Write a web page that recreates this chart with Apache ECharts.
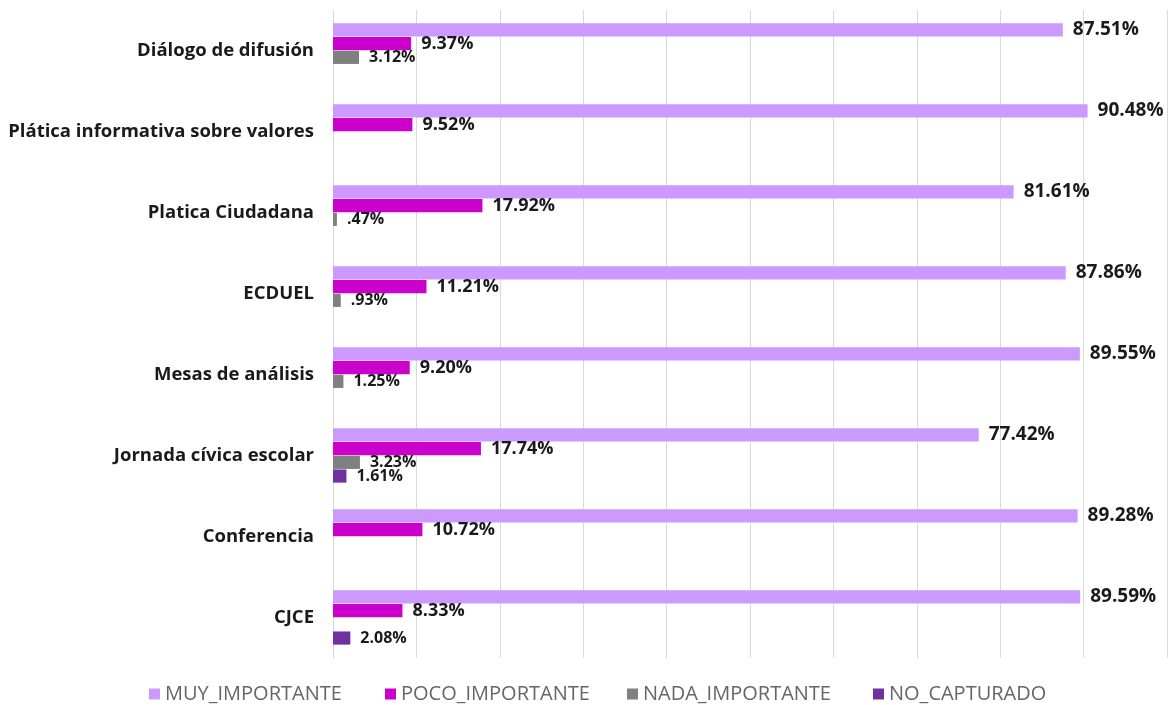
<!DOCTYPE html>
<html><head><meta charset="utf-8">
<script src="https://cdn.jsdelivr.net/npm/echarts@6/dist/echarts.min.js"></script>
<style>html,body{margin:0;padding:0;background:#fff}#c{width:1172px;height:705px}</style>
</head><body><div id="c"></div>
<script>
const categories = ["Diálogo de difusión","Plática informativa sobre valores","Platica Ciudadana","ECDUEL","Mesas de análisis","Jornada cívica escolar","Conferencia","CJCE"];
const seriesNames = ["MUY_IMPORTANTE","POCO_IMPORTANTE","NADA_IMPORTANTE","NO_CAPTURADO"];
const muyImportante = [87.51,90.48,81.61,87.86,89.55,77.42,89.28,89.59];
const pocoImportante = [9.37,9.52,17.92,11.21,9.20,17.74,10.72,8.33];
const nadaImportante = [3.12,0,0.47,0.93,1.25,3.23,0,0];
const noCapturado = [0,0,0,0,0,1.61,0,2.08];

const colors = ["#CC99FF","#CC00CC","#808080","#7030A0"];
const labelSizes = [19,18,16,16];
const legendLeft = [149,385,627,873];
const FONT = "'Open Sans', 'Liberation Sans', sans-serif";
function fmt(p){
  const v = p.value;
  if (!v) return '';
  let s = v.toFixed(2);
  if (s.startsWith('0')) s = s.slice(1);
  return s + '%';
}
const dataSets = [muyImportante,pocoImportante,nadaImportante,noCapturado];
const chart = echarts.init(document.getElementById('c'));
chart.setOption({
  animation:false,
  color: colors,
  grid:{left:333,right:5,top:10,bottom:47,containLabel:false},
  legend: seriesNames.map((n,i)=>({
    data:[n], left:legendLeft[i], top:683, padding:0, itemWidth:11, itemHeight:11, itemGap:0, icon:'rect',
    textStyle:{color:'#666666', fontSize:20, lineHeight:22, fontFamily:FONT}
  })),
  xAxis:{type:'value',min:0,max:100,interval:10,
    axisLabel:{show:false},axisLine:{show:false},axisTick:{show:false},
    splitLine:{show:true,lineStyle:{color:'#d9d9d9',width:1}}},
  yAxis:{type:'category',data:categories,inverse:true,
    axisLine:{show:false},axisTick:{show:false},
    axisLabel:{color:'#1a1a1a',fontSize:18.5,fontWeight:'bold',fontFamily:FONT,margin:19}},
  series: seriesNames.map((n,i)=>({
    name:n,type:'bar',data:dataSets[i],
    barGap:'4%',barCategoryGap:'33%',
    itemStyle:{color:colors[i]},
    label:{show:true,position:'right',distance:10,formatter:fmt,
      color:'#1a1a1a',fontWeight:'bold',fontSize:labelSizes[i],fontFamily:FONT}
  }))
});
</script></body></html>
